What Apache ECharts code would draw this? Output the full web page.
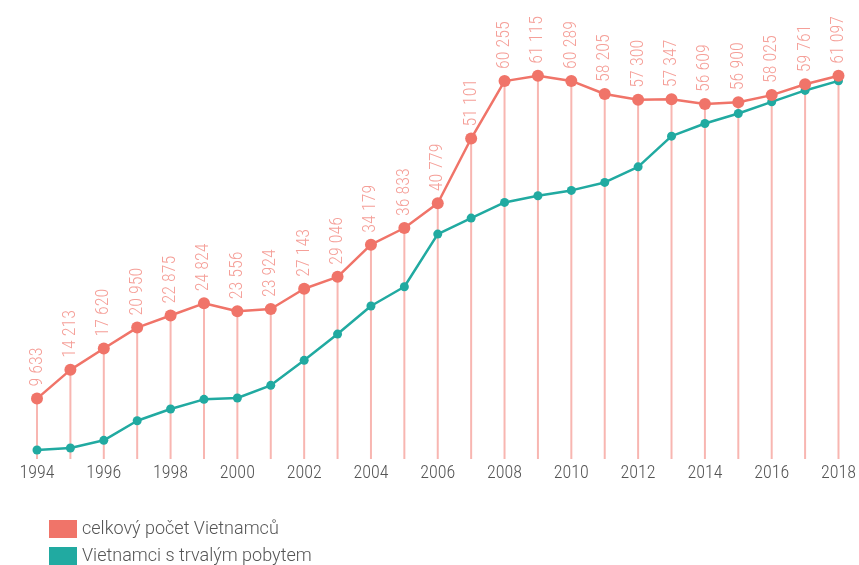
<!DOCTYPE html>
<html>
<head>
<meta charset="utf-8">
<script src="https://cdn.jsdelivr.net/npm/echarts@6/dist/echarts.min.js"></script>
<style>html,body{margin:0;padding:0;background:#fff}#c{width:859px;height:565px}</style>
</head>
<body>
<div id="c"></div>
<script>
var years = ['1994','1995','1996','1997','1998','1999','2000','2001','2002','2003','2004','2005','2006','2007','2008','2009','2010','2011','2012','2013','2014','2015','2016','2017','2018'];
var totalVietnamese = [9633,14213,17620,20950,22875,24824,23556,23924,27143,29046,34179,36833,40779,51101,60255,61115,60289,58205,57300,57347,56609,56900,58025,59761,61097];
var permanentResidence = [1430,1750,2980,6100,7970,9510,9720,11750,15730,19920,24390,27460,35860,38410,40910,41970,42830,44100,46590,51480,53500,55100,56950,58770,60300];
var seriesNames = ['celkový počet Vietnamců','Vietnamci s trvalým pobytem'];

var RED = '#f07469', TEAL = '#21aaa1', DROP = '#f8b6b1';
var NARROW = '"Roboto Condensed","Liberation Sans Narrow","DejaVu Sans Condensed",Roboto,sans-serif';
function fmt(v){ return String(v).replace(/\B(?=(\d{3})+(?!\d))/g,' '); }
var chart = echarts.init(document.getElementById('c'));
chart.setOption({
  animation:false,
  backgroundColor:'#fff',
  textStyle:{fontFamily:'Roboto'},
  grid:{left:37,right:19,top:20,bottom:106},
  legend:[
    {
      left:49, top:520, padding:0, itemWidth:28, itemHeight:18, itemGap:6,
      icon:'rect', data:[seriesNames[0]],
      textStyle:{fontSize:18,color:'#555',fontFamily:'Roboto',fontWeight:300}
    },
    {
      left:49, top:547, padding:0, itemWidth:28, itemHeight:18, itemGap:6,
      icon:'rect', data:[seriesNames[1]],
      textStyle:{fontSize:18,color:'#555',fontFamily:'Roboto',fontWeight:300}
    }
  ],
  xAxis:{
    type:'category', data:years, boundaryGap:false,
    axisLine:{show:false}, axisTick:{show:false},
    axisLabel:{interval:1, color:'#555', fontSize:18, margin:5, fontFamily:NARROW, fontWeight:300}
  },
  yAxis:{type:'value', min:0, max:70000, show:false, splitLine:{show:false}},
  series:[
    {
      type:'bar', data:totalVietnamese, barWidth:2, silent:true, z:1,
      itemStyle:{color:DROP}, legendHoverLink:false, tooltip:{show:false}
    },
    {
      name:seriesNames[1], type:'line', data:permanentResidence, z:3,
      symbol:'circle', symbolSize:9,
      lineStyle:{color:TEAL,width:2.5}, itemStyle:{color:TEAL}
    },
    {
      name:seriesNames[0], type:'line', data:totalVietnamese, z:4,
      symbol:'circle', symbolSize:12,
      lineStyle:{color:RED,width:2.5}, itemStyle:{color:RED},
      label:{
        show:true, position:'top', rotate:90, align:'left', verticalAlign:'middle',
        distance:6, color:'#f59f98', fontSize:18, fontFamily:NARROW, fontWeight:300,
        formatter:function(p){return fmt(p.value);}
      }
    }
  ]
});
</script>
</body>
</html>
